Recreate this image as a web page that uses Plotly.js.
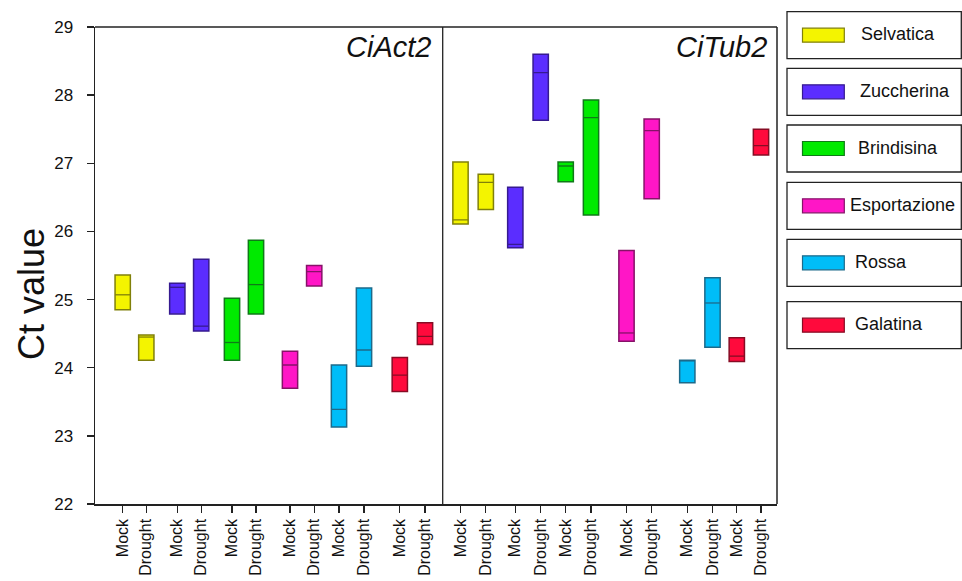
<!DOCTYPE html>
<html>
<head>
<meta charset="utf-8">
<script src="https://cdn.plot.ly/plotly-3.0.1.min.js"></script>
<style>html,body{margin:0;padding:0;background:#fff;}#chart{width:962px;height:581px;}</style>
</head>
<body>
<div id="chart"></div>
<script>
// ---- data ----
const panels = ['CiAct2', 'CiTub2'];
const cultivars = ['Selvatica', 'Zuccherina', 'Brindisina', 'Esportazione', 'Rossa', 'Galatina'];
const conditions = ['Mock', 'Drought'];
const fillColors = ['#f4f400', '#5b2dff', '#00ea00', '#ff16c6', '#00bdf8', '#ff0a3c'];
const edgeColors = ['#80800a', '#361a90', '#0f7a18', '#861268', '#1d6a8a', '#860c24'];

// CiAct2: [Mock, Drought] per cultivar
const actLow  = [[24.85, 24.11], [24.79, 24.54], [24.11, 24.79], [23.70, 25.20], [23.13, 24.02], [23.65, 24.34]];
const actMed  = [[25.07, 24.45], [25.18, 24.61], [24.37, 25.22], [24.04, 25.41], [23.39, 24.26], [23.89, 24.46]];
const actHigh = [[25.36, 24.48], [25.24, 25.59], [25.02, 25.87], [24.24, 25.50], [24.04, 25.17], [24.15, 24.66]];
// CiTub2
const tubLow  = [[26.11, 26.32], [25.76, 27.63], [26.73, 26.24], [24.39, 26.48], [23.78, 24.30], [24.09, 27.12]];
const tubMed  = [[26.17, 26.72], [25.81, 28.33], [26.96, 27.67], [24.51, 27.48], [24.10, 24.95], [24.17, 27.26]];
const tubHigh = [[27.02, 26.84], [26.65, 28.60], [27.02, 27.93], [25.72, 27.65], [24.11, 25.32], [24.44, 27.50]];

const yTicks = [22, 23, 24, 25, 26, 27, 28, 29];
const yTitle = 'Ct value';

// ---- layout constants (pixel geometry of the figure) ----
const W = 962, H = 581;
const plotL = 95, plotR = 777, plotT = 27, plotB = 504;
const divX = 442.7;
const slotPos = [
  [27.7, 51.3, 82.3, 106.2, 137, 161, 195, 219.2, 244, 269, 304.8, 330],
  [17.8, 43.1, 72.6, 98, 123, 148.3, 183.8, 209, 244.6, 269.8, 294.1, 318.3]
];
const barW = 15.3;
const panelRange = [divX - plotL, plotR - divX];
const px2x = p => (p - plotL) / (plotR - plotL);
const px2y = p => (plotB - p) / (plotB - plotT);
const FONT = '"Liberation Sans", Arial, sans-serif';
const INK = '#222';

const panelData = [
  {low: actLow, med: actMed, high: actHigh},
  {low: tubLow, med: tubMed, high: tubHigh}
];

const traces = [];
panelData.forEach((pd, p) => {
  const xa = p === 0 ? 'x' : 'x2';
  cultivars.forEach((c, i) => {
    const xs = conditions.map((_, k) => slotPos[p][i * 2 + k]);
    traces.push({
      type: 'bar', xaxis: xa, yaxis: 'y', name: c, showlegend: false,
      x: xs,
      base: pd.low[i],
      y: pd.high[i].map((h, k) => h - pd.low[i][k]),
      width: barW,
      marker: {color: fillColors[i], line: {color: edgeColors[i], width: 1.5}},
      hoverinfo: 'skip'
    });
    const mx = [], my = [];
    xs.forEach((x, k) => {
      mx.push(x - barW / 2, x + barW / 2, null);
      my.push(pd.med[i][k], pd.med[i][k], null);
    });
    traces.push({
      type: 'scatter', mode: 'lines', xaxis: xa, yaxis: 'y', showlegend: false,
      x: mx, y: my, line: {color: edgeColors[i], width: 1.3}, hoverinfo: 'skip'
    });
  });
});

const xTickText = cultivars.flatMap(() => conditions);
const xAxisBase = {
  tickmode: 'array', tickangle: -90, ticks: 'outside', ticklen: 7, tickwidth: 1.3, tickcolor: INK,
  showline: true, linecolor: INK, linewidth: 1.5, showgrid: false, zeroline: false,
  tickfont: {family: FONT, size: 16, color: '#111'}, anchor: 'y', fixedrange: true
};

const shapes = [
  {type: 'line', xref: 'paper', yref: 'paper', x0: 0, x1: 1, y0: 1, y1: 1, line: {color: INK, width: 1.5}},
  {type: 'line', xref: 'paper', yref: 'paper', x0: 1, x1: 1, y0: 0, y1: 1, line: {color: INK, width: 1.5}},
  {type: 'line', xref: 'paper', yref: 'paper', x0: px2x(divX), x1: px2x(divX), y0: 0, y1: 1, line: {color: INK, width: 1.3}}
];
const annotations = [
  {text: '<i>' + panels[0] + '</i>', xref: 'paper', yref: 'paper', x: px2x(433), y: px2y(46.5), xanchor: 'right', yanchor: 'middle',
   showarrow: false, font: {family: FONT, size: 29, color: '#111'}},
  {text: '<i>' + panels[1] + '</i>', xref: 'paper', yref: 'paper', x: px2x(769), y: px2y(46.5), xanchor: 'right', yanchor: 'middle',
   showarrow: false, font: {family: FONT, size: 29, color: '#111'}},
  {text: yTitle, xref: 'paper', yref: 'paper', x: px2x(31), y: px2y(294), xanchor: 'center', yanchor: 'middle',
   textangle: -90, showarrow: false, font: {family: FONT, size: 36, color: '#111'}}
];

// legend: separate framed boxes
const boxTop = [11.7, 68.3, 125, 182.3, 239.3, 301.7];
const boxH = 47;
const boxL = 787, boxR = 961.3;
const swL = 802.5, swR = 844.3, swH = 14;
const labelX = [859, 858, 856, 848.5, 853, 853];
cultivars.forEach((c, i) => {
  const t = boxTop[i], b = t + boxH, cy = (t + b) / 2;
  shapes.push({type: 'rect', xref: 'paper', yref: 'paper', x0: px2x(boxL), x1: px2x(boxR), y0: px2y(b), y1: px2y(t),
    line: {color: INK, width: 1.3}, fillcolor: 'rgba(0,0,0,0)'});
  shapes.push({type: 'rect', xref: 'paper', yref: 'paper', x0: px2x(swL), x1: px2x(swR), y0: px2y(cy + swH / 2), y1: px2y(cy - swH / 2),
    line: {color: edgeColors[i], width: 1.2}, fillcolor: fillColors[i]});
  annotations.push({text: c, xref: 'paper', yref: 'paper', x: px2x(labelX[i]), y: px2y(cy - 1), xanchor: 'left', yanchor: 'middle',
    showarrow: false, font: {family: FONT, size: 18, color: '#111'}});
});

const layout = {
  width: W, height: H,
  margin: {l: plotL, r: W - plotR, t: plotT, b: H - plotB, pad: 0},
  paper_bgcolor: '#fff', plot_bgcolor: '#fff',
  showlegend: false, bargap: 0,
  font: {family: FONT, color: INK},
  xaxis: Object.assign({}, xAxisBase, {domain: [0, px2x(divX)], range: [0, panelRange[0]], tickvals: slotPos[0], ticktext: xTickText}),
  xaxis2: Object.assign({}, xAxisBase, {domain: [px2x(divX), 1], range: [0, panelRange[1]], tickvals: slotPos[1], ticktext: xTickText}),
  yaxis: {
    range: [22, 29], tickmode: 'array', tickvals: yTicks, ticktext: yTicks.map(String),
    ticks: 'outside', ticklen: 7, tickwidth: 1.3, tickcolor: INK,
    showline: true, linecolor: INK, linewidth: 1.5, showgrid: false, zeroline: false,
    tickfont: {family: FONT, size: 17, color: '#111'}, ticklabelstandoff: 10,
    fixedrange: true
  },
  shapes: shapes,
  annotations: annotations
};

Plotly.newPlot('chart', traces, layout, {staticPlot: true, displayModeBar: false});
</script>
</body>
</html>
